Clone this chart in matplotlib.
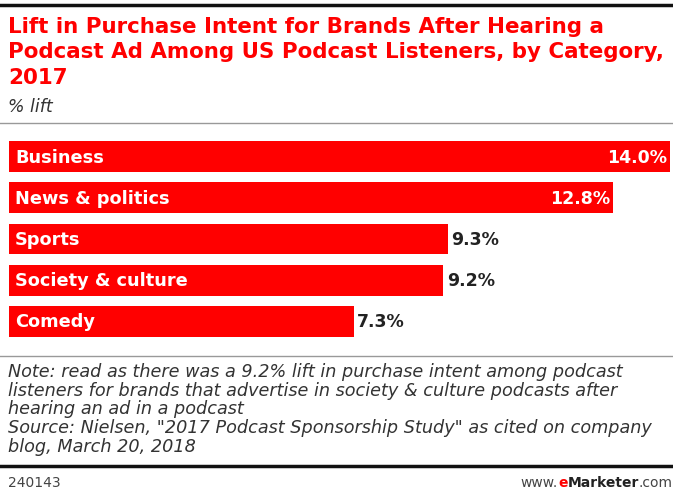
import matplotlib
matplotlib.use("Agg")
from matplotlib import pyplot as plt
from matplotlib.lines import Line2D

categories = ["Business", "News & politics", "Sports", "Society & culture", "Comedy"]
lift = [14.0, 12.8, 9.3, 9.2, 7.3]
value_labels = ["14.0%", "12.8%", "9.3%", "9.2%", "7.3%"]

title_lines = ["Lift in Purchase Intent for Brands After Hearing a",
               "Podcast Ad Among US Podcast Listeners, by Category,",
               "2017"]
subtitle = "% lift"
note_lines = ["Note: read as there was a 9.2% lift in purchase intent among podcast",
              "listeners for brands that advertise in society & culture podcasts after",
              "hearing an ad in a podcast",
              "Source: Nielsen, \"2017 Podcast Sponsorship Study\" as cited on company",
              "blog, March 20, 2018"]

W, H = 673, 489
red = "#ff0000"


def fx(px):
    return px / W


def fy(py):
    return 1 - py / H


fig = plt.figure(figsize=(W / 100, H / 100), dpi=100)

# horizontal rules
fig.add_artist(Line2D([0, 1], [fy(5.5), fy(5.5)], color="#111111", lw=2.5))
fig.add_artist(Line2D([0, 1], [fy(124), fy(124)], color="#999999", lw=1))
fig.add_artist(Line2D([0, 1], [fy(357), fy(357)], color="#999999", lw=1))
fig.add_artist(Line2D([0, 1], [fy(467), fy(467)], color="#111111", lw=2.5))

# title block
for i, line in enumerate(title_lines):
    fig.text(fx(8), fy(33 + 25.5 * i), line, color=red, fontsize=15.4,
             fontweight="bold", va="baseline", ha="left")
fig.text(fx(8), fy(112), subtitle, color="#333333", fontsize=12.5,
         style="italic", va="baseline", ha="left")

# bars
ax = fig.add_axes([fx(9), fy(343), fx(670) - fx(9), fy(137) - fy(343)])
ypos = list(range(len(categories)))
ax.barh(ypos, lift, height=0.75, color=red, edgecolor="none")
ax.set_xlim(0, lift[0])
ax.set_ylim(len(categories) - 0.5, -0.5)
ax.axis("off")

for i, (cat, v, lab) in enumerate(zip(categories, lift, value_labels)):
    ax.text(0.13, i, cat, color="white", fontsize=12.8, fontweight="bold",
            va="center", ha="left")
    if v > 10:
        ax.text(v - 0.07, i, lab, color="white", fontsize=12.5, fontweight="bold",
                va="center", ha="right")
    else:
        ax.text(v + 0.07, i, lab, color="#222222", fontsize=12.5, fontweight="bold",
                va="center", ha="left")

# note and source
for i, line in enumerate(note_lines):
    fig.text(fx(8), fy(377 + 18.7 * i), line, color="#333333", fontsize=12.7,
             style="italic", va="baseline", ha="left")

# footer
fig.text(fx(8), fy(487), "240143", color="#444444", fontsize=10,
         va="baseline", ha="left")

fig.canvas.draw()
r = fig.canvas.get_renderer()
x = fx(673)
for part, col, wt in [(".com", "#444444", "normal"), ("Marketer", "#222222", "bold"),
                      ("e", red, "bold"), ("www.", "#444444", "normal")]:
    t = fig.text(x, fy(487), part, color=col, fontsize=10, fontweight=wt,
                 va="baseline", ha="right")
    bb = t.get_window_extent(renderer=r)
    x -= bb.width / W

fig.savefig("out.png", dpi=100)
